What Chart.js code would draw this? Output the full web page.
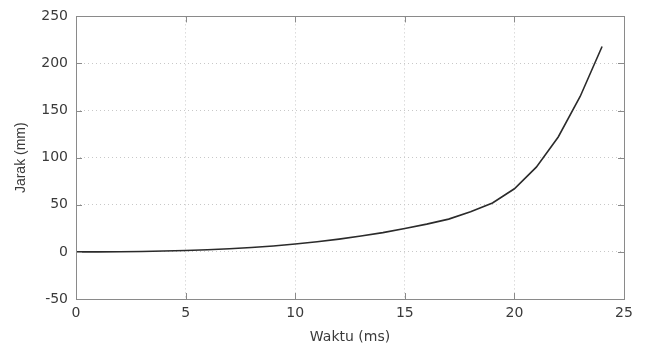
<!DOCTYPE html>
<html>
<head>
<meta charset="utf-8">
<script src="https://cdn.jsdelivr.net/npm/chart.js@4"></script>
<style>
html,body{margin:0;padding:0;background:#fff;}
#wrap{width:646px;height:349px;position:relative;}
</style>
</head>
<body>
<div id="wrap"><canvas id="c" width="646" height="349"></canvas></div>
<script>
const timeMs = [0,1,2,3,4,5,6,7,8,9,10,11,12,13,14,15,16,17,18,19,20,21,22,23,24];
const distanceMm = [0,0.05,0.2,0.5,0.9,1.5,2.3,3.3,4.6,6.3,8.4,10.8,13.6,16.8,20.5,24.8,29.5,34.8,42.5,52,67,90,122,165,218];
const xTicks = [0,5,10,15,20,25];
const yTicks = [-50,0,50,100,150,200,250];

const points = timeMs.map((t,i)=>({x:t,y:distanceMm[i]}));

const frame = {
  id:'frame',
  afterDraw(chart){
    const {ctx, chartArea:a, scales:{x,y}} = chart;
    ctx.save();
    ctx.strokeStyle = '#8a8a8a';
    ctx.lineWidth = 1;
    const L = 6;
    ctx.beginPath();
    xTicks.forEach(v=>{
      const px = Math.round(x.getPixelForValue(v))+0.5;
      ctx.moveTo(px,a.bottom); ctx.lineTo(px,a.bottom-L);
      ctx.moveTo(px,a.top); ctx.lineTo(px,a.top+L);
    });
    yTicks.forEach(v=>{
      const py = Math.round(y.getPixelForValue(v))+0.5;
      ctx.moveTo(a.left,py); ctx.lineTo(a.left+L,py);
      ctx.moveTo(a.right,py); ctx.lineTo(a.right-L,py);
    });
    ctx.stroke();
    ctx.strokeRect(Math.round(a.left)+0.5, Math.round(a.top)+0.5, Math.round(a.right-a.left), Math.round(a.bottom-a.top));
    ctx.restore();
  }
};

new Chart(document.getElementById('c'), {
  type:'line',
  data:{datasets:[{
    data:points,
    borderColor:'#2b2b2b',
    borderWidth:1.6,
    pointRadius:0,
    tension:0,
    fill:false
  }]},
  options:{
    responsive:false,
    animation:false,
    layout:{padding:{top:13,right:22,left:0,bottom:0}},
    plugins:{legend:{display:false},tooltip:{enabled:false}},
    scales:{
      x:{
        type:'linear',min:0,max:25,
        afterBuildTicks(s){ s.ticks = xTicks.map(v=>({value:v})); },
        afterFit(s){ s.height = 50; },
        grid:{color:'#c8c8c8',lineWidth:1,drawTicks:false,tickLength:0},
        border:{display:false,dash:[1,3]},
        ticks:{color:'#3a3a3a',font:{family:'DejaVu Sans',size:14},padding:6,maxRotation:0},
        title:{display:true,text:'Waktu (ms)',color:'#3a3a3a',font:{family:'DejaVu Sans',size:14},padding:{top:4,bottom:3}}
      },
      y:{
        type:'linear',min:-50,max:250,
        afterBuildTicks(s){ s.ticks = yTicks.map(v=>({value:v})); },
        afterFit(s){ s.width = 76; },
        grid:{color:'#c8c8c8',lineWidth:1,drawTicks:false,tickLength:0},
        border:{display:false,dash:[1,3]},
        ticks:{color:'#3a3a3a',font:{family:'DejaVu Sans',size:14},padding:8},
        title:{display:true,text:'Jarak (mm)',color:'#3a3a3a',font:{family:'Liberation Sans',size:14},padding:{top:13,bottom:4}}
      }
    }
  },
  plugins:[frame]
});
</script>
</body>
</html>
